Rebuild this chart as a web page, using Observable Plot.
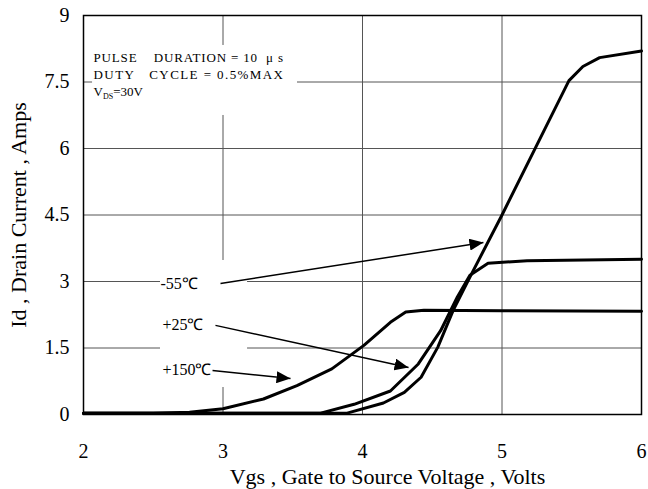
<!DOCTYPE html>
<html>
<head>
<meta charset="utf-8">
<script src="https://cdn.jsdelivr.net/npm/d3@7"></script>
<script src="https://cdn.jsdelivr.net/npm/@observablehq/plot@0.6"></script>
<style>
  html, body { margin: 0; padding: 0; background: #fff; }
  #chart { width: 648px; height: 489px; }
</style>
</head>
<body>
<div id="chart"></div>
<script>
// ---- data ----
const xTicks = [2, 3, 4, 5, 6];
const yTicks = [0, 1.5, 3, 4.5, 6, 7.5, 9];
const xGrid = [3, 4, 5];
const yGrid = [1.5, 3, 4.5, 6, 7.5];

// -55 °C
const vgsM55 = [2, 3.89, 4.15, 4.3, 4.42, 4.54, 4.65, 4.77, 5.0, 5.48, 5.58, 5.7, 6];
const idM55  = [0.03, 0.03, 0.26, 0.5, 0.84, 1.52, 2.35, 3.10, 4.5, 7.53, 7.85, 8.05, 8.2];
// +25 °C
const vgs25 = [2, 3.7, 3.94, 4.2, 4.4, 4.56, 4.68, 4.77, 4.9, 5.18, 6];
const id25  = [0.03, 0.03, 0.23, 0.53, 1.14, 1.89, 2.65, 3.14, 3.41, 3.47, 3.5];
// +150 °C
const vgs150 = [2, 2.5, 2.76, 3.0, 3.29, 3.53, 3.78, 4.01, 4.2, 4.31, 4.44, 5, 6];
const id150  = [0.03, 0.03, 0.05, 0.13, 0.35, 0.65, 1.03, 1.56, 2.08, 2.31, 2.35, 2.34, 2.33];

// annotation labels (data units)
const labelText = ["-55\u2103", "+25\u2103", "+150\u2103"];
const labelX = [2.552, 2.566, 2.566];
const labelY = [2.94, 2.03, 1.015];
// arrows: start -> tip (data units)
const arrowX1 = [2.982, 2.946, 2.925];
const arrowY1 = [2.955, 2.01, 0.99];
const arrowX2 = [4.867, 4.33, 3.484];
const arrowY2 = [3.88, 1.06, 0.81];

// test-condition note
const noteLines = [
  "PULSE\u00A0\u00A0\u00A0\u00A0DURATION\u00A0=\u00A010\u00A0\u00A0\u03BC\u00A0s",
  "DUTY\u00A0\u00A0\u00A0CYCLE\u00A0=\u00A00.5%MAX",
  "VDS=30V"
];
const noteX = 2.072;
const noteY = [8.05, 7.67, 7.28];
const noteRight = 3.43; // right end of the first two note lines (data units)

// white boxes behind the annotations (data units)
const maskX1 = [2.065, 2.552];
const maskX2 = [3.534, 3.176];
const maskY1 = [6.745, 0.609];
const maskY2 = [8.324, 3.474];

const xTitle = "Vgs , Gate to Source Voltage , Volts";
const yTitle = "Id , Drain Current , Amps";

// ---- build tables ----
const series = [
  ...vgsM55.map((v, i) => ({s: "-55", x: v, y: idM55[i]})),
  ...vgs25.map((v, i) => ({s: "+25", x: v, y: id25[i]})),
  ...vgs150.map((v, i) => ({s: "+150", x: v, y: id150[i]}))
];
const labels = labelText.map((t, i) => ({t, x: labelX[i], y: labelY[i]}));
const arrows = arrowX1.map((_, i) => ({x1: arrowX1[i], y1: arrowY1[i], x2: arrowX2[i], y2: arrowY2[i]}));
const notes = noteLines.map((t, i) => ({t, x: noteX, y: noteY[i]}));
const masks = maskX1.map((_, i) => ({x1: maskX1[i], x2: maskX2[i], y1: maskY1[i], y2: maskY2[i]}));

function triangleMarker(color, context) {
  const doc = (context && context.document) || document;
  const m = doc.createElementNS("http://www.w3.org/2000/svg", "marker");
  m.setAttribute("viewBox", "-14 -6 14 12");
  m.setAttribute("markerWidth", "14");
  m.setAttribute("markerHeight", "12");
  m.setAttribute("markerUnits", "userSpaceOnUse");
  m.setAttribute("orient", "auto");
  m.setAttribute("refX", "0");
  m.setAttribute("refY", "0");
  const p = doc.createElementNS("http://www.w3.org/2000/svg", "path");
  p.setAttribute("d", "M-14,-6L0,0L-14,6Z");
  p.setAttribute("fill", color);
  p.setAttribute("stroke", "none");
  m.appendChild(p);
  return m;
}

const FONT = "'Liberation Serif', 'Times New Roman', serif";
const fmt = (d) => String(d);

const plot = Plot.plot({
  width: 648,
  height: 489,
  marginLeft: 83,
  marginRight: 7,
  marginTop: 15,
  marginBottom: 75,
  style: {fontFamily: FONT, fontSize: "20px", background: "white", color: "black", overflow: "visible"},
  x: {domain: [2, 6]},
  y: {domain: [0, 9]},
  marks: [
    Plot.gridX(xGrid, {stroke: "#555", strokeOpacity: 1, strokeWidth: 1}),
    Plot.gridY(yGrid, {stroke: "#555", strokeOpacity: 1, strokeWidth: 1}),
    Plot.rect(masks, {x1: "x1", x2: "x2", y1: "y1", y2: "y2", fill: "white"}),
    Plot.axisX(xTicks, {tickSize: 0, tickPadding: 29, fontSize: 20, label: null, tickFormat: fmt}),
    Plot.axisY(yTicks, {tickSize: 0, tickPadding: 14, fontSize: 20, label: null, tickFormat: fmt}),
    Plot.line(series, {x: "x", y: "y", z: "s", stroke: "black", strokeWidth: 3, strokeLinejoin: "round"}),
    Plot.frame({stroke: "black", strokeWidth: 1.5}),
    Plot.link(arrows, {x1: "x1", y1: "y1", x2: "x2", y2: "y2", stroke: "black", strokeWidth: 1.5, markerEnd: triangleMarker}),
    Plot.text(labels, {x: "x", y: "y", text: "t", textAnchor: "start", fontSize: 16, fill: "black"}),
    Plot.text(notes, {x: "x", y: "y", text: "t", textAnchor: "start", fontSize: 13, fill: "black"}),
    Plot.text([xTitle], {frameAnchor: "bottom", textAnchor: "middle", lineAnchor: "bottom", dx: 25, dy: 69, fontSize: 22, fill: "black"}),
    Plot.text([yTitle], {frameAnchor: "left", textAnchor: "middle", lineAnchor: "middle", dx: -65, rotate: -90, fontSize: 22, fill: "black"})
  ]
});

// stretch the first two note lines to the width they have in the reference
const sx = plot.scale("x");
const noteLen = sx.apply(noteRight) - sx.apply(noteX);
d3.select(plot).selectAll("text").each(function () {
  const s = this.textContent;
  if (s === noteLines[0] || s === noteLines[1]) {
    this.setAttribute("textLength", noteLen);
    this.setAttribute("lengthAdjust", "spacing");
  }
  if (s === "VDS=30V") {
    const t = d3.select(this);
    t.text(null);
    t.append("tspan").text("V");
    t.append("tspan").attr("font-size", 8).attr("dy", "3").text("DS");
    t.append("tspan").attr("dy", "-3").text("=30V");
  }
});

document.getElementById("chart").appendChild(plot);
</script>
</body>
</html>
